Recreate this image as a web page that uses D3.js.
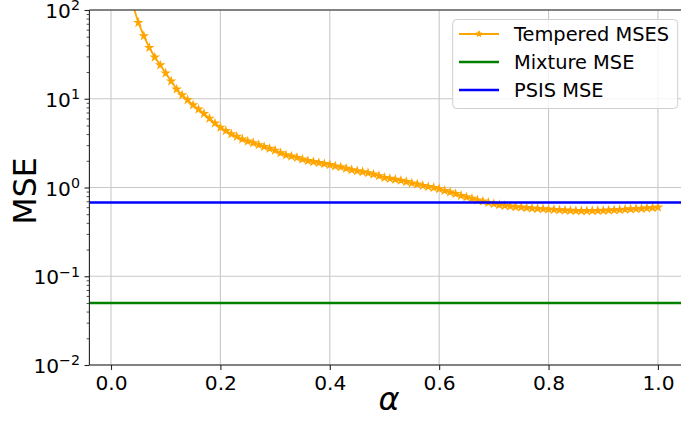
<!DOCTYPE html>
<html><head><meta charset="utf-8">
<script src="https://cdn.jsdelivr.net/npm/d3@7"></script>
<style>body{margin:0;background:#fff}svg{display:block}text{font-family:"DejaVu Sans",sans-serif}</style>
</head><body>
<svg id="c" width="681" height="423"></svg>
<script>
const alphas = d3.range(1,101).map(i=>i/100);
const temperedMSE = [3000,700,260,115,72,51,37.6,29.3,24,19.4,
15.8,12.8,11.0,9.7,8.5,7.6,6.8,6.0,5.3,4.75,
4.35,4.0,3.75,3.5,3.32,3.18,3.02,2.88,2.75,2.62,
2.45,2.32,2.25,2.17,2.08,2.0,1.95,1.9,1.85,1.8,
1.74,1.70,1.64,1.58,1.54,1.50,1.46,1.41,1.35,1.29,
1.26,1.23,1.20,1.16,1.12,1.09,1.05,1.02,0.995,0.965,
0.92,0.885,0.85,0.81,0.78,0.75,0.72,0.70,0.675,0.655,
0.636,0.625,0.615,0.605,0.598,0.59,0.583,0.578,0.573,0.569,
0.563,0.558,0.553,0.55,0.547,0.545,0.545,0.546,0.548,0.55,
0.553,0.557,0.561,0.566,0.571,0.576,0.58,0.585,0.59,0.598];
const mixtureMSE = 0.05;
const psisMSE = 0.678;
const xTicks = [0.0,0.2,0.4,0.6,0.8,1.0];
const yTickExps = [2,1,0,-1,-2];
const legendLabels = ["Tempered MSES","Mixture MSE","PSIS MSE"];
const colors = ["#ffa500","#008000","#0000ff"];

const svg = d3.select("#c");
const L=89.4, R=685, T=10, B=365;
const x = d3.scaleLinear().domain([-0.0395,1.0495]).range([L,R]);
const y = d3.scaleLog().domain([1e-2,1e2]).range([B,T]);

svg.append("defs").append("clipPath").attr("id","clip").append("rect")
  .attr("x",L).attr("y",T).attr("width",R-L).attr("height",B-T);

// grid
const g = svg.append("g");
g.selectAll(".vg").data(xTicks).enter().append("line")
  .attr("x1",d=>x(d)).attr("x2",d=>x(d)).attr("y1",T).attr("y2",B)
  .attr("stroke","#c8c8c8").attr("stroke-width",1.1);
g.selectAll(".hg").data(yTickExps).enter().append("line")
  .attr("y1",d=>y(Math.pow(10,d))).attr("y2",d=>y(Math.pow(10,d))).attr("x1",L).attr("x2",R)
  .attr("stroke","#c8c8c8").attr("stroke-width",1.1);

// data
const plot = svg.append("g").attr("clip-path","url(#clip)");
const pts = alphas.map((a,i)=>[a,temperedMSE[i]]);
plot.append("path").datum(pts)
  .attr("d",d3.line().x(d=>x(d[0])).y(d=>y(d[1])))
  .attr("fill","none").attr("stroke",colors[0]).attr("stroke-width",1.8);
const star = d3.symbol().type(d3.symbolStar).size(15);
plot.selectAll(".m").data(pts).enter().append("path")
  .attr("d",star).attr("transform",d=>`translate(${x(d[0])},${y(d[1])})`)
  .attr("fill",colors[0]).attr("stroke",colors[0]).attr("stroke-width",1.2);
plot.append("line").attr("x1",L).attr("x2",R).attr("y1",y(mixtureMSE)).attr("y2",y(mixtureMSE))
  .attr("stroke",colors[1]).attr("stroke-width",2.6);
plot.append("line").attr("x1",L).attr("x2",R).attr("y1",y(psisMSE)).attr("y2",y(psisMSE))
  .attr("stroke",colors[2]).attr("stroke-width",2.6);

// spines
svg.append("line").attr("x1",L).attr("x2",L).attr("y1",T).attr("y2",B).attr("stroke","#222").attr("stroke-width",1.1);
svg.append("line").attr("x1",L).attr("x2",R).attr("y1",T).attr("y2",T).attr("stroke","#222").attr("stroke-width",1.1);
svg.append("line").attr("x1",L).attr("x2",R).attr("y1",B).attr("y2",B).attr("stroke","#222").attr("stroke-width",1.1);

// x axis
const xa = svg.append("g").attr("transform",`translate(0,${B})`)
  .call(d3.axisBottom(x).tickValues(xTicks).tickFormat(d3.format(".1f")).tickSizeOuter(0).tickSizeInner(4.9).tickPadding(5.6));
xa.select(".domain").remove();
xa.selectAll("text").attr("font-size","20.2px").attr("fill","#000").attr("font-family","DejaVu Sans");
xa.selectAll("line").attr("stroke","#222").attr("stroke-width",1.1);

// y axis
const minorVals = [];
for (let e=-2;e<2;e++) for (let k=2;k<10;k++) minorVals.push(k*Math.pow(10,e));
const ya = svg.append("g").attr("transform",`translate(${L},0)`)
  .call(d3.axisLeft(y).tickValues(yTickExps.map(e=>Math.pow(10,e))).tickFormat("").tickSizeOuter(0).tickSizeInner(4.9));
ya.select(".domain").remove();
ya.selectAll("line").attr("stroke","#222").attr("stroke-width",1.1);
const ym = svg.append("g").attr("transform",`translate(${L},0)`)
  .call(d3.axisLeft(y).tickValues(minorVals).tickFormat("").tickSizeOuter(0).tickSizeInner(2.8));
ym.select(".domain").remove();
ym.selectAll("line").attr("stroke","#222").attr("stroke-width",0.8);
yTickExps.forEach(e=>{
  const t = svg.append("text").attr("x",L-9.4).attr("y",y(Math.pow(10,e))+8)
    .attr("text-anchor","end").attr("font-size","20.2px").attr("fill","#000");
  t.append("tspan").text("10");
  t.append("tspan").attr("font-size","14.2px").attr("dy","-7.6").text(e<0?"\u2212"+(-e):String(e));
});

// labels
svg.append("text").attr("transform",`translate(36,191) rotate(-90)`).attr("text-anchor","middle")
  .attr("font-size","31.5px").attr("fill","#000").text("MSE");
svg.append("text").attr("x",389).attr("y",410).attr("text-anchor","middle")
  .attr("font-size","32px").attr("font-style","italic").attr("fill","#000").text("α");

// legend
const lg = svg.append("g");
lg.append("rect").attr("x",452.7).attr("y",19.5).attr("width",225).attr("height",89).attr("rx",4)
  .attr("fill","#fff").attr("fill-opacity",0.8).attr("stroke","#d0d0d0").attr("stroke-width",1);
legendLabels.forEach((lab,i)=>{
  const cy = 34 + i*28;
  lg.append("line").attr("x1",459).attr("x2",499).attr("y1",cy).attr("y2",cy)
    .attr("stroke",colors[i]).attr("stroke-width",i===0?1.8:2.6);
  if(i===0) lg.append("path").attr("d",d3.symbol().type(d3.symbolStar).size(11)).attr("transform",`translate(479,${cy})`)
    .attr("fill",colors[0]).attr("stroke",colors[0]).attr("stroke-width",1);
  lg.append("text").attr("x",514).attr("y",cy+7).attr("font-size","19.4px").attr("fill","#000").text(lab);
});
</script>
</body></html>
